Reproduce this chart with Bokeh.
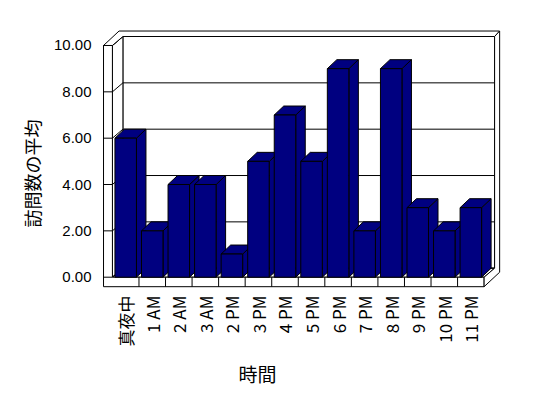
import math
from bokeh.plotting import figure
from bokeh.models import FixedTicker, NumeralTickFormatter, Range1d, Title
from bokeh.embed import file_html
from bokeh.resources import INLINE

# ---------------- data ----------------
categories = ["真夜中", "1 AM", "2 AM", "3 AM", "2 PM", "3 PM", "4 PM",
              "5 PM", "6 PM", "7 PM", "8 PM", "9 PM", "10 PM", "11 PM"]
visits_avg = [6, 2, 4, 4, 1, 5, 7, 5, 9, 2, 9, 3, 2, 3]
y_ticks = [0, 2, 4, 6, 8, 10]
y_title = "訪問数の平均"
x_title = "時間"

# ---------------- pseudo-3D geometry (data units) ----------------
BAR_W = 0.81            # bar front width (category units)
DX, DY = 0.395, 0.388   # offset of back plane
TX, TY = 0.19, 0.237    # back wall thickness
BX, BY = 0.358, 0.388   # bar depth
WT = 0.335              # left wall thickness
FT = 0.41               # floor thickness
BAR_COLOR = "#000080"

n = len(categories)
XL, XR = -0.5, n - 0.5
YMAX = y_ticks[-1]
D0 = (0.0, 0.0)
DB = (DX, DY)
DT = (DX + TX, DY + TY)


def face(pts):
    xs = [x + d[0] for (x, y, d) in pts]
    ys = [y + d[1] for (x, y, d) in pts]
    return xs, ys


p = figure(width=532, height=396, output_backend="svg", toolbar_location=None,
           x_range=Range1d(-0.949, 14.343), y_range=Range1d(-0.488, 10.82),
           min_border_left=100, min_border_right=26, min_border_top=26,
           min_border_bottom=108)
p.outline_line_color = None
p.xgrid.visible = False
p.ygrid.visible = False
p.background_fill_color = "white"
p.border_fill_color = "white"

# interior faces (back wall front, left wall inner side, floor top)
inner = [
    face([(XL, 0, DB), (XR, 0, DB), (XR, YMAX, DB), (XL, YMAX, DB)]),
    face([(XL, 0, D0), (XL, 0, DB), (XL, YMAX, DB), (XL, YMAX, D0)]),
    face([(XL, 0, D0), (XR, 0, D0), (XR, 0, DB), (XL, 0, DB)]),
]
p.patches([f[0] for f in inner], [f[1] for f in inner], fill_color="white",
          line_color="black", line_width=1)

# gridlines on left wall and back wall
gx, gy = [], []
for v in y_ticks:
    xs, ys = face([(XL - WT, v, D0), (XL, v, D0), (XL, v, DB), (XR, v, DB)])
    gx.append(xs)
    gy.append(ys)
p.multi_line(gx, gy, line_color="black", line_width=1)

# outer faces of walls/floor slabs
outer = [
    # front (left wall + floor)
    face([(XL - WT, -FT, D0), (XR, -FT, D0), (XR, 0, D0), (XL, 0, D0),
          (XL, YMAX, D0), (XL - WT, YMAX, D0)]),
    # top (left wall + back wall)
    face([(XL - WT, YMAX, D0), (XL, YMAX, D0), (XL, YMAX, DB), (XR, YMAX, DB),
          (XR, YMAX, DT), (XL - WT, YMAX, DT)]),
    # right side (floor + back wall)
    face([(XR, -FT, D0), (XR, -FT, DT), (XR, YMAX, DT), (XR, YMAX, DB),
          (XR, 0, DB), (XR, 0, D0)]),
]
p.patches([f[0] for f in outer], [f[1] for f in outer], fill_color="white",
          line_color="black", line_width=1)

# ticks across left wall front face
tx = [[XL - WT, XL] for v in y_ticks]
ty = [[v, v] for v in y_ticks]
p.multi_line(tx, ty, line_color="black", line_width=1)

# category separators on floor front face
sx = [[i + 0.5, i + 0.5] for i in range(n - 1)]
sy = [[-FT, 0] for i in range(n - 1)]
p.multi_line(sx, sy, line_color="black", line_width=1)

# bars: side, top, front for each, drawn left to right
bx, by = [], []
for i, v in enumerate(visits_avg):
    xl, xr = i - BAR_W / 2, i + BAR_W / 2
    bd = (BX, BY)
    for f in (
        face([(xr, 0, D0), (xr, 0, bd), (xr, v, bd), (xr, v, D0)]),
        face([(xl, v, D0), (xr, v, D0), (xr, v, bd), (xl, v, bd)]),
        face([(xl, 0, D0), (xr, 0, D0), (xr, v, D0), (xl, v, D0)]),
    ):
        bx.append(f[0])
        by.append(f[1])
p.patches(bx, by, fill_color=BAR_COLOR, line_color="black", line_width=1)

# axes
yax = p.yaxis[0]
yax.ticker = FixedTicker(ticks=y_ticks)
yax.formatter = NumeralTickFormatter(format="0.00")
yax.axis_line_color = None
yax.major_tick_line_color = None
yax.minor_tick_line_color = None
yax.major_tick_out = 0
yax.major_tick_in = 0
yax.major_label_standoff = 9
yax.major_label_text_font = "Liberation Sans"
yax.major_label_text_font_size = "15px"
yax.major_label_text_color = "black"

yt = Title(text=y_title, align="left", offset=61, standoff=12,
           text_font="Noto Sans CJK JP", text_font_size="18px",
           text_font_style="normal", text_color="black")
p.add_layout(yt, "left")

xax = p.xaxis[0]
xax.ticker = FixedTicker(ticks=list(range(n)))
xax.major_label_overrides = {i: c for i, c in enumerate(categories)}
xax.major_label_orientation = math.pi / 2
xax.axis_line_color = None
xax.major_tick_line_color = None
xax.minor_tick_line_color = None
xax.major_tick_out = 0
xax.major_tick_in = 0
xax.major_label_standoff = 7
xax.major_label_text_font = "Noto Sans CJK JP"
xax.major_label_text_font_size = "17px"
xax.major_label_text_color = "black"

xt = Title(text=x_title, align="left", offset=138, standoff=16,
           text_font="Noto Sans CJK JP", text_font_size="19px",
           text_font_style="normal", text_color="black")
p.add_layout(xt, "below")

open("out.html", "w").write(file_html(p, INLINE))
